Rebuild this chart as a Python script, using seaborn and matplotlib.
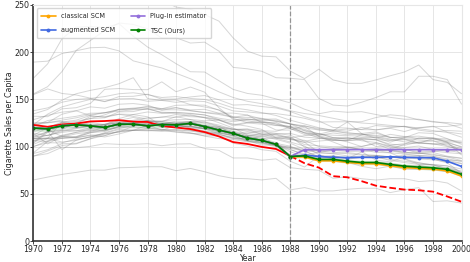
import numpy as np
import pandas as pd
import matplotlib
matplotlib.use('Agg')
import matplotlib.pyplot as plt
import seaborn as sns

years = list(range(1970, 2001))

# California (treated unit)
california = [123.0, 121.0, 123.5, 124.4, 126.7, 127.1, 128.0, 126.4, 126.1, 121.9,
              120.2, 118.6, 115.4, 110.8, 104.8, 102.8, 99.7, 97.5, 90.1, 82.4,
              77.8, 68.7, 67.5, 63.4, 58.6, 56.4, 54.5, 53.8, 52.3, 47.2, 41.6]

# donor states
donors = {
    'Alabama': [89.8, 95.4, 101.1, 102.9, 108.2, 111.7, 116.2, 117.1, 123.0, 121.4, 123.2, 119.6, 119.1, 116.3, 113.0, 114.5, 116.3, 114.0, 112.1, 105.6, 108.6, 107.9, 109.1, 108.5, 107.1, 102.6, 101.4, 104.9, 106.2, 100.7, 96.2],
    'Arkansas': [100.3, 104.1, 103.9, 108.0, 109.7, 114.8, 119.1, 122.6, 127.3, 126.5, 131.8, 128.7, 127.4, 128.0, 123.1, 125.8, 126.0, 122.3, 121.5, 118.3, 113.1, 116.8, 126.0, 113.8, 108.8, 113.0, 110.7, 108.7, 109.5, 104.8, 99.4],
    'Colorado': [124.8, 125.5, 134.3, 137.9, 132.8, 131.0, 134.2, 132.0, 129.2, 131.5, 131.0, 133.8, 130.5, 125.3, 119.7, 112.4, 109.9, 102.4, 94.6, 88.8, 87.4, 90.2, 88.3, 88.6, 89.1, 85.4, 83.1, 81.3, 81.2, 79.6, 73.0],
    'Connecticut': [120.0, 117.6, 110.8, 109.3, 112.4, 110.2, 113.4, 117.3, 117.5, 117.4, 118.0, 116.4, 114.7, 114.1, 112.5, 111.0, 108.5, 109.0, 104.8, 100.6, 91.5, 86.7, 83.5, 79.1, 76.6, 79.3, 76.0, 75.9, 75.5, 73.4, 71.4],
    'Delaware': [155.0, 161.1, 156.3, 154.7, 151.3, 147.6, 153.0, 153.3, 155.5, 150.2, 150.5, 152.6, 154.1, 149.6, 144.0, 144.5, 142.4, 141.0, 137.1, 131.7, 127.2, 120.3, 119.6, 118.0, 117.9, 119.3, 116.0, 120.2, 121.1, 121.4, 123.2],
    'Georgia': [109.9, 115.7, 117.0, 119.8, 123.7, 122.9, 125.9, 127.9, 130.6, 131.0, 134.0, 131.7, 131.2, 128.6, 126.3, 128.8, 129.0, 129.3, 124.1, 117.1, 113.8, 109.6, 109.8, 106.2, 104.4, 99.4, 96.6, 94.8, 95.4, 93.6, 92.4],
    'Idaho': [102.4, 108.5, 126.1, 121.8, 125.6, 123.3, 125.1, 125.0, 122.8, 117.5, 115.2, 114.1, 111.5, 111.3, 103.6, 100.7, 96.7, 95.0, 84.5, 78.4, 90.1, 89.9, 87.5, 94.2, 96.0, 93.4, 87.1, 82.9, 80.4, 77.4, 74.2],
    'Illinois': [124.8, 125.6, 126.6, 124.4, 131.9, 131.8, 134.4, 134.0, 136.7, 135.3, 135.2, 133.0, 130.7, 127.9, 124.0, 121.6, 118.2, 109.5, 107.6, 104.6, 94.1, 96.1, 94.8, 94.6, 85.7, 83.9, 88.9, 89.9, 86.8, 82.8, 71.7],
    'Indiana': [134.6, 139.3, 149.2, 156.0, 159.6, 162.4, 166.6, 173.0, 150.9, 148.9, 146.9, 148.5, 147.7, 143.0, 137.8, 136.7, 135.3, 135.0, 132.9, 130.0, 126.0, 126.3, 126.3, 126.4, 130.8, 133.7, 132.3, 128.3, 126.7, 124.3, 119.4],
    'Iowa': [108.5, 108.4, 109.4, 110.6, 116.1, 120.5, 124.4, 125.5, 127.1, 124.2, 124.6, 125.5, 122.0, 121.1, 118.9, 116.0, 113.5, 109.3, 110.9, 99.5, 96.5, 97.5, 98.8, 97.5, 95.7, 96.2, 93.9, 93.3, 91.0, 89.3, 87.5],
    'Kansas': [114.0, 102.8, 111.0, 115.2, 118.6, 123.4, 127.7, 130.9, 127.2, 124.5, 122.1, 121.5, 118.6, 113.6, 108.3, 109.0, 110.8, 107.8, 103.6, 97.0, 93.1, 92.7, 93.7, 91.8, 90.8, 88.9, 91.1, 90.6, 89.8, 85.7, 84.8],
    'Kentucky': [155.8, 163.5, 179.4, 201.9, 212.4, 223.0, 230.9, 229.4, 224.7, 214.9, 215.3, 209.7, 210.6, 201.1, 183.9, 182.4, 179.8, 173.0, 172.4, 171.0, 151.0, 144.0, 143.0, 147.0, 152.0, 158.0, 158.0, 174.5, 174.5, 171.0, 145.0],
    'Louisiana': [115.9, 119.8, 125.3, 126.7, 129.9, 133.6, 139.6, 140.0, 142.7, 140.1, 143.8, 144.0, 143.9, 138.5, 131.6, 128.6, 127.8, 128.0, 123.9, 121.4, 110.7, 106.5, 106.8, 112.4, 114.3, 109.7, 109.4, 108.4, 108.5, 106.5, 105.8],
    'Maine': [128.5, 133.2, 136.5, 138.0, 142.1, 140.7, 144.9, 145.6, 143.9, 138.5, 141.2, 138.9, 139.5, 135.4, 135.5, 133.5, 125.4, 125.7, 119.1, 112.8, 110.7, 104.9, 99.1, 100.3, 103.1, 97.1, 102.5, 109.3, 108.2, 104.5, 91.2],
    'Minnesota': [104.3, 116.4, 96.8, 106.8, 110.6, 111.5, 116.7, 117.2, 118.9, 118.3, 117.7, 117.4, 116.1, 114.5, 111.4, 106.1, 105.2, 103.4, 100.5, 94.6, 89.7, 89.9, 86.8, 88.6, 89.5, 88.2, 89.8, 87.5, 87.5, 85.5, 82.3],
    'Mississippi': [93.4, 105.4, 112.1, 115.0, 117.1, 116.8, 120.9, 122.1, 124.9, 123.9, 127.0, 126.3, 126.1, 122.8, 118.2, 117.3, 115.0, 112.5, 108.4, 104.4, 105.9, 107.1, 106.2, 107.7, 100.1, 100.7, 97.2, 93.3, 95.0, 96.4, 93.2],
    'Missouri': [121.3, 127.6, 130.0, 132.1, 135.4, 135.6, 139.5, 140.8, 141.8, 140.2, 141.2, 138.1, 136.2, 135.1, 131.1, 133.3, 129.3, 126.6, 124.3, 120.0, 117.5, 117.4, 118.6, 118.3, 122.3, 121.1, 121.5, 117.4, 115.6, 117.1, 116.3],
    'Montana': [111.2, 115.6, 122.2, 119.9, 121.9, 123.7, 124.9, 127.0, 127.2, 120.3, 121.4, 117.2, 114.5, 112.9, 109.3, 106.3, 101.7, 101.3, 97.3, 90.6, 94.1, 92.4, 90.2, 88.9, 90.7, 89.3, 86.6, 81.4, 80.6, 76.4, 72.2],
    'Nebraska': [108.1, 108.6, 104.9, 106.6, 110.5, 114.1, 118.1, 117.7, 117.4, 116.1, 117.1, 114.7, 111.1, 108.5, 107.5, 105.0, 104.4, 101.3, 98.3, 95.1, 95.6, 96.4, 96.4, 97.1, 93.9, 93.5, 92.1, 90.6, 89.6, 87.1, 84.3],
    'Nevada': [189.5, 190.5, 198.6, 201.5, 204.7, 205.2, 201.4, 190.8, 187.0, 183.3, 177.7, 171.9, 165.1, 158.0, 152.0, 148.0, 145.5, 142.0, 138.0, 135.0, 133.0, 130.0, 127.0, 125.0, 124.0, 122.5, 121.0, 119.0, 117.0, 115.0, 110.0],
    'New Hampshire': [265.7, 278.0, 296.2, 279.0, 269.8, 269.1, 290.5, 278.8, 269.6, 254.6, 247.8, 245.4, 239.8, 232.9, 215.1, 201.1, 195.8, 195.1, 180.0, 172.0, 182.0, 170.6, 167.0, 167.0, 170.6, 175.0, 179.0, 186.4, 171.0, 168.0, 156.0],
    'New Mexico': [90.0, 92.6, 99.3, 98.9, 100.3, 103.1, 102.4, 102.4, 103.1, 101.0, 102.7, 103.0, 97.9, 96.0, 88.0, 88.0, 85.6, 87.0, 77.7, 76.0, 75.0, 66.4, 68.2, 66.0, 64.6, 66.0, 66.0, 63.0, 64.0, 61.5, 53.0],
    'North Carolina': [172.4, 187.6, 214.1, 226.5, 227.3, 226.0, 230.2, 217.0, 205.5, 197.3, 187.8, 179.3, 179.0, 169.8, 160.6, 156.3, 154.4, 150.5, 146.3, 139.6, 134.8, 137.6, 136.4, 137.0, 134.0, 131.0, 129.0, 129.0, 126.0, 125.5, 124.0],
    'North Dakota': [108.4, 109.4, 110.2, 113.6, 115.5, 117.9, 119.9, 120.0, 119.8, 118.2, 115.8, 114.1, 113.4, 111.2, 108.7, 105.8, 103.1, 101.6, 99.3, 96.8, 95.5, 94.0, 92.5, 91.0, 90.2, 89.1, 88.1, 87.0, 86.0, 84.0, 82.0],
    'Ohio': [123.0, 125.0, 128.0, 130.5, 134.0, 136.0, 137.5, 139.0, 139.6, 136.4, 136.0, 135.3, 133.5, 130.1, 127.8, 129.4, 127.0, 124.1, 120.9, 116.7, 111.9, 114.4, 112.6, 113.9, 115.7, 109.6, 110.4, 111.1, 108.9, 108.1, 103.7],
    'Oklahoma': [108.5, 112.0, 116.0, 119.0, 122.0, 123.7, 127.0, 127.0, 127.4, 126.0, 125.0, 126.0, 122.0, 120.0, 116.0, 114.0, 112.0, 113.5, 114.0, 110.0, 109.0, 109.0, 108.0, 109.5, 110.0, 107.0, 108.0, 104.0, 103.0, 102.0, 98.0],
    'Pennsylvania': [110.0, 112.0, 115.0, 117.0, 117.7, 120.0, 124.0, 124.9, 125.0, 123.0, 122.0, 121.0, 119.0, 117.7, 115.0, 112.0, 111.4, 109.0, 108.0, 106.7, 100.0, 98.0, 99.0, 97.0, 96.0, 95.6, 93.0, 93.0, 92.0, 89.0, 85.2],
    'Rhode Island': [123.2, 134.4, 142.0, 146.2, 150.0, 148.0, 150.6, 151.0, 148.0, 149.0, 149.5, 144.5, 142.0, 139.0, 130.0, 125.3, 126.2, 123.8, 119.0, 115.0, 111.5, 108.0, 105.0, 100.0, 104.0, 101.0, 99.0, 100.6, 97.0, 95.0, 96.5],
    'South Carolina': [103.6, 115.0, 118.0, 125.5, 129.7, 130.5, 136.8, 137.1, 140.4, 135.7, 136.3, 134.9, 133.6, 128.5, 121.9, 125.0, 123.8, 122.6, 121.1, 114.4, 109.3, 106.7, 106.6, 107.4, 107.4, 101.4, 103.1, 103.5, 108.5, 105.2, 104.5],
    'South Dakota': [92.7, 96.7, 103.0, 103.5, 108.4, 113.5, 115.4, 121.7, 124.1, 124.2, 123.7, 119.8, 116.6, 112.5, 110.0, 107.5, 104.2, 101.6, 99.3, 95.6, 88.9, 89.0, 87.6, 88.2, 88.6, 86.6, 84.5, 82.8, 80.6, 79.5, 76.3],
    'Tennessee': [99.8, 106.3, 111.5, 109.7, 114.8, 117.4, 121.7, 124.6, 127.3, 127.2, 128.6, 128.7, 124.5, 121.2, 117.7, 118.5, 112.8, 111.1, 109.3, 111.6, 113.8, 109.4, 108.3, 109.0, 107.5, 106.4, 107.3, 103.9, 102.5, 103.6, 95.2],
    'Texas': [106.4, 108.9, 108.6, 110.4, 114.7, 116.0, 121.4, 124.2, 126.6, 126.6, 124.9, 126.4, 125.9, 121.6, 113.3, 108.2, 106.5, 101.3, 96.5, 92.3, 89.5, 87.6, 84.8, 81.9, 83.2, 82.3, 79.8, 80.4, 77.4, 76.6, 72.3],
    'Utah': [64.7, 67.7, 70.6, 72.7, 75.1, 75.1, 77.6, 78.0, 78.7, 78.7, 74.5, 76.9, 73.4, 69.2, 66.4, 66.0, 64.7, 66.4, 54.2, 56.6, 53.1, 53.1, 54.8, 55.9, 55.9, 51.3, 54.2, 56.6, 41.9, 42.6, 40.2],
    'Vermont': [138.0, 141.0, 147.0, 150.0, 151.0, 153.0, 156.0, 157.0, 155.0, 152.0, 153.0, 151.0, 150.0, 146.0, 141.0, 139.0, 136.0, 133.0, 128.0, 124.0, 120.0, 117.0, 114.0, 113.0, 111.0, 108.0, 105.0, 104.0, 103.0, 100.0, 97.0],
    'Virginia': [112.0, 120.0, 126.0, 128.0, 133.0, 136.0, 139.0, 140.0, 140.0, 139.0, 139.0, 138.0, 136.0, 134.0, 131.0, 131.0, 130.0, 127.0, 124.0, 122.0, 118.0, 116.0, 115.0, 113.0, 112.0, 110.0, 108.0, 107.0, 106.0, 104.0, 100.0],
    'West Virginia': [114.5, 111.5, 117.5, 116.6, 119.9, 123.2, 129.7, 133.9, 131.6, 122.1, 121.9, 121.1, 119.9, 119.7, 118.4, 118.6, 116.9, 116.2, 120.6, 114.4, 113.1, 112.1, 111.5, 111.3, 109.6, 104.7, 109.5, 114.7, 113.9, 108.4, 102.4],
    'Wisconsin': [106.4, 105.4, 108.8, 109.5, 111.8, 113.5, 115.4, 117.2, 116.7, 117.1, 123.0, 121.4, 119.4, 115.5, 111.6, 111.6, 113.5, 113.2, 109.4, 102.1, 100.9, 99.9, 100.0, 96.6, 98.1, 96.2, 94.2, 92.5, 93.8, 89.9, 87.8],
    'Wyoming': [132.2, 131.7, 140.0, 141.2, 145.8, 160.7, 161.5, 160.4, 160.3, 168.6, 158.1, 163.1, 157.7, 141.2, 128.7, 127.4, 124.8, 117.6, 117.5, 121.9, 119.2, 117.7, 116.3, 120.4, 117.5, 120.1, 121.5, 119.7, 121.6, 115.5, 113.4],
}

# synthetic California estimates
tsc = [119.6, 118.9, 122.0, 123.1, 122.0, 120.3, 123.8, 123.8, 122.0, 123.4,
       123.1, 124.5, 121.3, 117.5, 114.0, 109.1, 106.6, 102.4, 89.5, 90.2,
       86.4, 86.4, 84.6, 83.2, 83.2, 81.1, 79.3, 78.3, 77.6, 75.9, 70.6]
tsc_err = [3.0, 3.0, 3.0, 3.0, 3.0, 3.0, 3.0, 3.0, 3.0, 3.0,
           3.0, 3.0, 3.0, 3.0, 3.0, 3.0, 3.0, 3.0, 2.0, 2.0,
           2.2, 2.2, 2.3, 2.3, 2.3, 2.4, 2.4, 2.5, 2.5, 2.5, 2.6]
classical_scm = [119.6, 118.9, 122.0, 123.1, 122.0, 120.3, 123.8, 123.8, 122.0, 123.4,
                 123.1, 124.5, 121.3, 117.5, 114.0, 109.1, 106.6, 102.4, 89.5, 89.0,
                 85.0, 85.0, 83.3, 82.0, 81.8, 79.8, 77.8, 77.0, 76.2, 74.3, 68.8]
augmented_scm = [119.6, 118.9, 122.0, 123.1, 122.0, 120.3, 123.8, 123.8, 122.0, 123.4,
                 123.1, 124.5, 121.3, 117.5, 114.0, 109.1, 106.6, 102.4, 89.5, 90.9,
                 89.6, 88.6, 88.4, 88.7, 88.5, 89.3, 88.5, 88.4, 88.2, 84.5, 79.0]
plugin = [119.6, 118.9, 122.0, 123.1, 122.0, 120.3, 123.8, 123.8, 122.0, 123.4,
          123.1, 124.5, 121.3, 117.5, 114.0, 109.1, 106.6, 102.4, 89.5, 96.8,
          96.8, 96.8, 96.8, 96.8, 96.8, 96.8, 96.8, 96.8, 96.8, 96.8, 96.8]

treat_year = 1988

# long format for the donor pool
donor_df = pd.DataFrame(donors, index=years).reset_index().melt(
    id_vars='index', var_name='state', value_name='sales').rename(columns={'index': 'year'})
ca_df = pd.DataFrame({'year': years, 'sales': california})
pre = ca_df[ca_df['year'] <= treat_year]
post = ca_df[ca_df['year'] >= treat_year]

sns.set_style('whitegrid')
plt.rcParams['font.family'] = ['DejaVu Sans']

fig, ax = plt.subplots(figsize=(4.7, 2.62), dpi=100)
fig.subplots_adjust(left=0.071, right=0.982, top=0.981, bottom=0.08)

sns.lineplot(data=donor_df, x='year', y='sales', units='state', estimator=None,
             color='gray', alpha=0.32, linewidth=0.7, ax=ax, legend=False)

sns.lineplot(data=pre, x='year', y='sales', color='red', linewidth=1.3, ax=ax)
sns.lineplot(data=post, x='year', y='sales', color='red', linewidth=1.3,
             linestyle='--', ax=ax)

est = [('classical SCM', classical_scm, 'orange'),
       ('augmented SCM', augmented_scm, 'royalblue'),
       ('Plug-in estimator', plugin, 'mediumpurple'),
       ('TSC (Ours)', tsc, 'green')]
for name, vals, col in est:
    sns.lineplot(x=years, y=vals, color=col, marker='o', markersize=2.8,
                 markeredgewidth=0, linewidth=1.2, label=name, ax=ax)

lo = np.array(tsc) - np.array(tsc_err)
hi = np.array(tsc) + np.array(tsc_err)
ax.fill_between(years, lo, hi, color='green', alpha=0.15, linewidth=0)

ax.axvline(treat_year, color='gray', linestyle='--', linewidth=0.9, alpha=0.8)

ax.set_xlim(1970, 2000)
ax.set_ylim(0, 250)
ax.set_xticks(range(1970, 2001, 2))
ax.set_yticks(range(0, 251, 50))
ax.set_xlabel('Year', fontsize=5.7, labelpad=-0.5)
ax.set_ylabel('Cigarette Sales per Capita', fontsize=5.7, labelpad=0.5)
ax.tick_params(axis='both', labelsize=5.7, length=2, width=0.6, pad=1,
               bottom=True, left=True)
ax.grid(True, color='#e6e6e6', linewidth=0.7)
for side in ['left', 'bottom']:
    ax.spines[side].set_color('#333333')
    ax.spines[side].set_linewidth(1.2)
for side in ['top', 'right']:
    ax.spines[side].set_color('#e6e6e6')

ax.legend(loc='upper left', ncol=2, fontsize=4.7, frameon=True, labelspacing=1.3,
          columnspacing=2.4, handlelength=2.2, borderpad=0.7)

plt.savefig('out.png', dpi=100)
